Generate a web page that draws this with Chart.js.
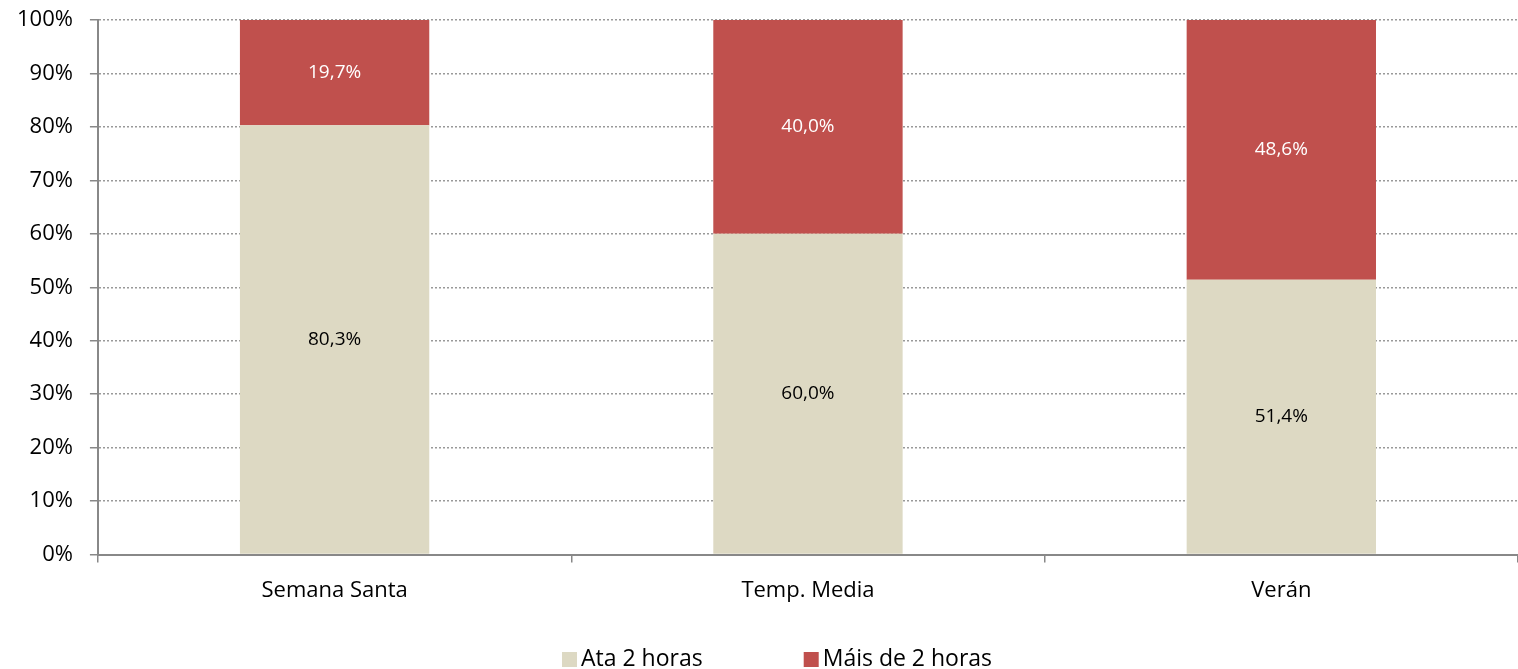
<!DOCTYPE html>
<html>
<head>
<meta charset="utf-8">
<script src="https://cdn.jsdelivr.net/npm/chart.js@4"></script>
<style>
  body { margin: 0; background: #fff; }
  #wrap { width: 1518px; height: 669px; }
</style>
</head>
<body>
<div id="wrap"><canvas id="grafico"></canvas></div>
<script>
// Datos
const categorias = ['Semana Santa', 'Temp. Media', 'Verán'];
const ata2horas = [80.3, 60.0, 51.4];
const mais2horas = [19.7, 40.0, 48.6];
const ticksY = [0, 10, 20, 30, 40, 50, 60, 70, 80, 90, 100];

const fonte = "'Open Sans', 'Noto Sans', sans-serif";

// Etiquetas no centro de cada segmento
const etiquetas = {
  id: 'etiquetas',
  afterDatasetsDraw(chart) {
    const ctx = chart.ctx;
    ctx.save();
    ctx.font = '19px ' + fonte;
    ctx.textAlign = 'center';
    ctx.textBaseline = 'middle';
    chart.data.datasets.forEach((ds, i) => {
      chart.getDatasetMeta(i).data.forEach((bar, j) => {
        const v = ds.data[j];
        ctx.fillStyle = ds.labelColor;
        ctx.fillText(v.toFixed(1).replace('.', ',') + '%', bar.x, (bar.y + bar.base) / 2);
      });
    });
    ctx.restore();
  }
};

// Lenda debuxada a man (separación ampla entre elementos)
const lenda = {
  id: 'lenda',
  afterDraw(chart) {
    const ctx = chart.ctx;
    ctx.save();
    ctx.font = '23px ' + fonte;
    ctx.textBaseline = 'middle';
    const y = 659;
    let x = 562;
    chart.data.datasets.forEach(ds => {
      ctx.fillStyle = ds.backgroundColor;
      ctx.fillRect(x, y - 7, 15, 15);
      ctx.fillStyle = '#000';
      ctx.fillText(ds.label, x + 19, y);
      x += 19 + ctx.measureText(ds.label).width + 101;
    });
    ctx.restore();
  }
};

new Chart(document.getElementById('grafico'), {
  type: 'bar',
  data: {
    labels: categorias,
    datasets: [
      { label: 'Ata 2 horas', data: ata2horas, backgroundColor: '#DDD9C3', labelColor: '#000', categoryPercentage: 1, barPercentage: 0.4 },
      { label: 'Máis de 2 horas', data: mais2horas, backgroundColor: '#C0504D', labelColor: '#fff', categoryPercentage: 1, barPercentage: 0.4 }
    ]
  },
  options: {
    responsive: true,
    maintainAspectRatio: false,
    animation: false,
    layout: { padding: { top: 0, right: 0, left: 0, bottom: 50 } },
    plugins: {
      legend: { display: false },
      tooltip: { enabled: false }
    },
    scales: {
      x: {
        stacked: true,
        grid: { offset: true, drawOnChartArea: false, drawTicks: true, tickLength: 8, color: '#888', lineWidth: 1.5 },
        border: { color: '#888', width: 2 },
        ticks: { font: { size: 22, family: fonte }, color: '#000', padding: 15 }
      },
      y: {
        stacked: true,
        min: 0,
        max: 100,
        afterBuildTicks(axis) { axis.ticks = ticksY.map(v => ({ value: v })); },
        afterFit(axis) { axis.paddingTop = 20; },
        grid: { color: '#999', lineWidth: 1.5, tickBorderDash: [], tickLength: 8, tickColor: '#888' },
        border: { color: '#888', width: 2, dash: [2, 2] },
        ticks: { font: { size: 22, family: fonte }, color: '#000', padding: 17, callback: v => v + '%' }
      }
    }
  },
  plugins: [etiquetas, lenda]
});
</script>
</body>
</html>
